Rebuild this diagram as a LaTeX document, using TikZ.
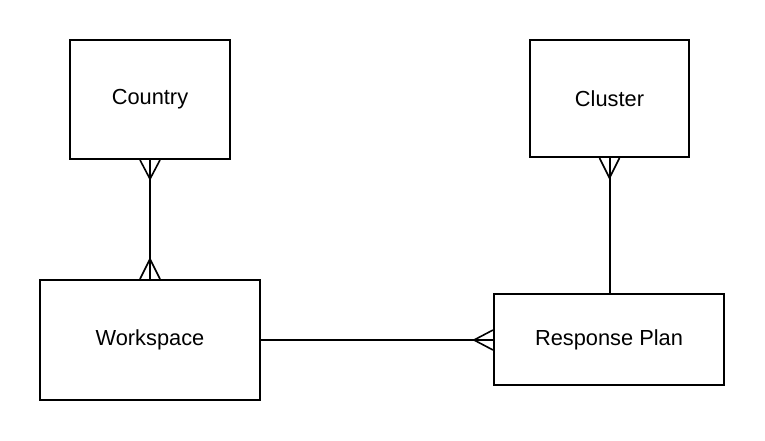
\documentclass[tikz,border=0pt]{standalone}
\usepackage{fontspec}
\setmainfont{Liberation Sans}
\usetikzlibrary{calc}
\begin{document}
\begin{tikzpicture}[x=1pt,y=-1pt,
  entity/.style={draw,line width=2pt,inner sep=0pt,font=\fontsize{21.8}{26}\selectfont},
  conn/.style={line width=2pt},
  foot/.style={line width=1.6pt}]
\useasboundingbox (0,0) rectangle (765,440);
\node[entity,minimum width=160,minimum height=119] (country) at (150,99.5) {Country};
\node[entity,minimum width=159,minimum height=117] (cluster) at (609.5,98.5) {Cluster};
\node[entity,minimum width=220,minimum height=120] (workspace) at (150,340) {Workspace};
\node[entity,minimum width=230,minimum height=91] (plan) at (609,339.5) {Response Plan};
% connectors
\draw[conn] (country.south) -- (workspace.north);
\draw[conn] (workspace.east |- 0,340) coordinate (we) -- (plan.west |- 0,340) coordinate (pw);
\draw[conn] (cluster.south) -- (cluster.south |- plan.north);
% crow's feet
\draw[foot] ($(country.south)+(-10,0)$) -- ($(country.south)+(0,19)$) -- ($(country.south)+(10,0)$);
\draw[foot] ($(workspace.north)+(-10,0)$) -- ($(workspace.north)+(0,-20)$) -- ($(workspace.north)+(10,0)$);
\draw[foot] ($(cluster.south)+(-10,0)$) -- ($(cluster.south)+(0,20)$) -- ($(cluster.south)+(10,0)$);
\draw[foot] ($(pw)+(0,-10)$) -- ($(pw)+(-19,0)$) -- ($(pw)+(0,10)$);
\end{tikzpicture}
\end{document}
